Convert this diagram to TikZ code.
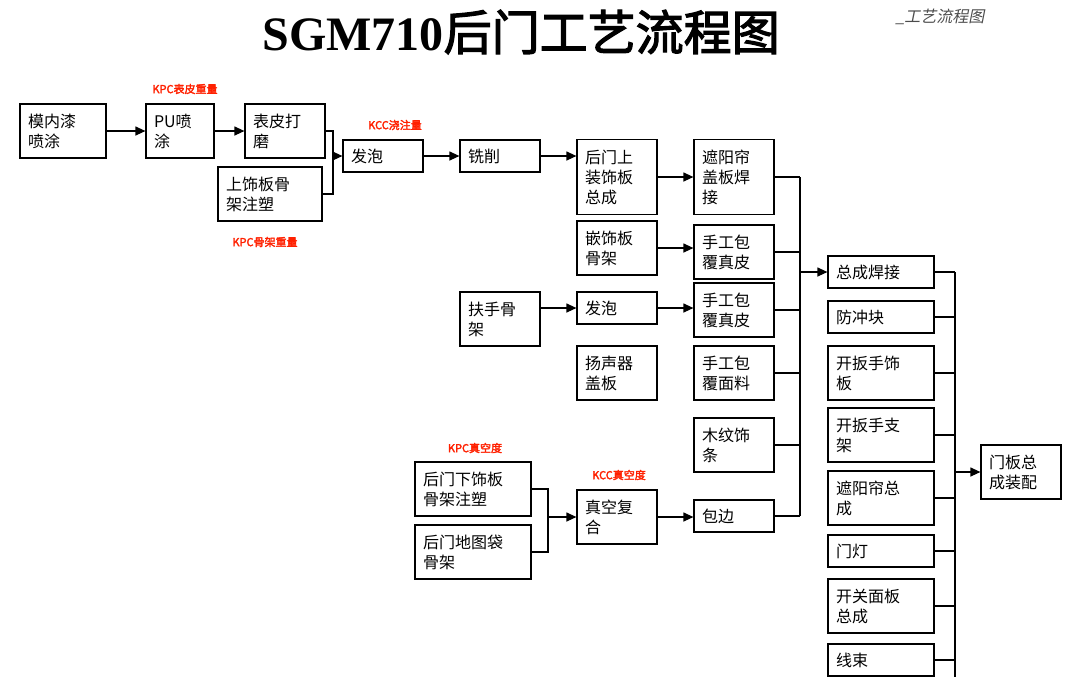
\documentclass[tikz,border=0pt]{standalone}
\usepackage{fontspec}
\setmainfont{Liberation Serif}
\newfontfamily\cjk{Noto Sans CJK SC}[AutoFakeBold=2.5]
\newfontfamily\cjkit{Noto Sans CJK SC}[FakeSlant=0.2]
\usetikzlibrary{arrows.meta,positioning}

\tikzset{
  box/.style={draw, line width=0.6pt, minimum height=27pt, text width=32pt,
    inner sep=4pt, align=left, font=\cjk\fontsize{8}{10}\selectfont},
  low/.style={minimum height=16pt},
  tall/.style={minimum height=37.5pt},
  wide/.style={text width=45pt},
  kpc/.style={font=\cjk\bfseries\fontsize{5.5}{6}\selectfont, text=red!75!orange},
  link/.style={line width=0.6pt},
  flow/.style={link, -{Triangle[length=5pt,width=4.5pt]}}
}

\begin{document}
\begin{tikzpicture}[x=0.5pt,y=-0.5pt]
  \useasboundingbox (0,0) rectangle (1080,676);
  \node (title) at (521,32) {\bfseries\fontsize{24}{26}\selectfont SGM710{\cjk 后门工艺流程图}};
  \node (tag) at (940,17) [text=black!70] {\cjkit\fontsize{8}{9}\selectfont \_工艺流程图};

  % upper line
  \node[box, text width=35pt] (mnq) at (63,131)  {模内漆\\喷涂};
  \node[box, text width=26pt] (pu)  at (180,131) {PU喷\\涂};
  \node[box] (bp)  at (285,131) {表皮打\\磨};
  \node[box, text width=44pt] (ssb) at (270,194) {上饰板骨\\架注塑};
  \node[box,low] (fp1) at (383,156) {发泡};
  \node[box,low] (xx)  at (500,156) {铣削};
  \node[box,tall] (hms) at (617,177) {后门上\\装饰板\\总成};
  \node[box] (qsb) at (617,248) {嵌饰板\\骨架};
  \node[box,tall] (zyl) at (734,177) {遮阳帘\\盖板焊\\接};
  \node[box] (sg1) at (734,252) {手工包\\覆真皮};
  \node[box] (fsg) at (500,319) {扶手骨\\架};
  \node[box,low] (fp2) at (617,308) {发泡};
  \node[box] (sg2) at (734,310) {手工包\\覆真皮};
  \node[box] (ysq) at (617,373) {扬声器\\盖板};
  \node[box] (sgm) at (734,373) {手工包\\覆面料};
  \node[box] (mw)  at (734,445) {木纹饰\\条};
  % lower line
  \node[box, text width=50pt] (hmx) at (473,489) {后门下饰板\\骨架注塑};
  \node[box, text width=50pt] (dtd) at (473,552) {后门地图袋\\骨架};
  \node[box] (zk)  at (617,517) {真空复\\合};
  \node[box,low] (bb) at (734,516) {包边};
  % right column
  \node[box,wide,low] (zchj) at (881,272) {总成焊接};
  \node[box,wide,low] (fcq)  at (881,317) {防冲块};
  \node[box,wide] (kbs)  at (881,373) {开扳手饰\\板};
  \node[box,wide] (kbz)  at (881,435) {开扳手支\\架};
  \node[box,wide] (zylz) at (881,498) {遮阳帘总\\成};
  \node[box,wide,low] (md)   at (881,551) {门灯};
  \node[box,wide] (kgm)  at (881,606) {开关面板\\总成};
  \node[box,wide,low] (xs)   at (881,660) {线束};
  \node[box] (mbz) at (1021,472) {门板总\\成装配};

  % labels
  \node[kpc] (l1) at (185,89)  {KPC表皮重量};
  \node[kpc] (l2) at (395,125) {KCC浇注量};
  \node[kpc] (l3) at (265,242) {KPC骨架重量};
  \node[kpc] (l4) at (475,448) {KPC真空度};
  \node[kpc] (l5) at (619,475) {KCC真空度};

  \coordinate (j1) at (333,156);
  \coordinate (j2) at (548,517);
  \coordinate (bus) at (800,0);
  \coordinate (bus2) at (955,0);
  \coordinate (end) at (955,690);

  \draw[flow] (mnq) -- (pu);
  \draw[flow] (pu) -- (bp);
  \draw[link] (bp.east) -| (j1) |- (ssb.east);
  \draw[flow] (j1) -- (fp1);
  \draw[flow] (fp1) -- (xx);
  \draw[flow] (xx) -- (xx -| hms.west);
  \draw[flow] (hms.east |- zyl) -- (zyl);
  \draw[flow] (qsb) -- (qsb -| sg1.west);
  \draw[flow] (fsg.east |- fp2) -- (fp2);
  \draw[flow] (fp2) -- (fp2 -| sg2.west);
  \draw[link] (hmx.east) -| (j2) |- (dtd.east);
  \draw[flow] (j2) -- (zk);
  \draw[flow] (zk) -- (zk -| bb.west);

  % collecting bus
  \foreach \n in {zyl,sg1,sg2,sgm,mw,bb}
    \draw[link] (\n.east) -- (\n.east -| bus);
  \draw[link] (zyl.east -| bus) -- (bb.east -| bus);
  \draw[flow] (zchj.west -| bus) -- (zchj.west);

  \foreach \n in {zchj,fcq,kbs,kbz,zylz,md,kgm,xs}
    \draw[link] (\n.east) -- (\n.east -| bus2);
  \draw[link] (zchj.east -| bus2) -- (end);
  \draw[flow] (mbz.west -| bus2) -- (mbz.west);
\end{tikzpicture}
\end{document}
